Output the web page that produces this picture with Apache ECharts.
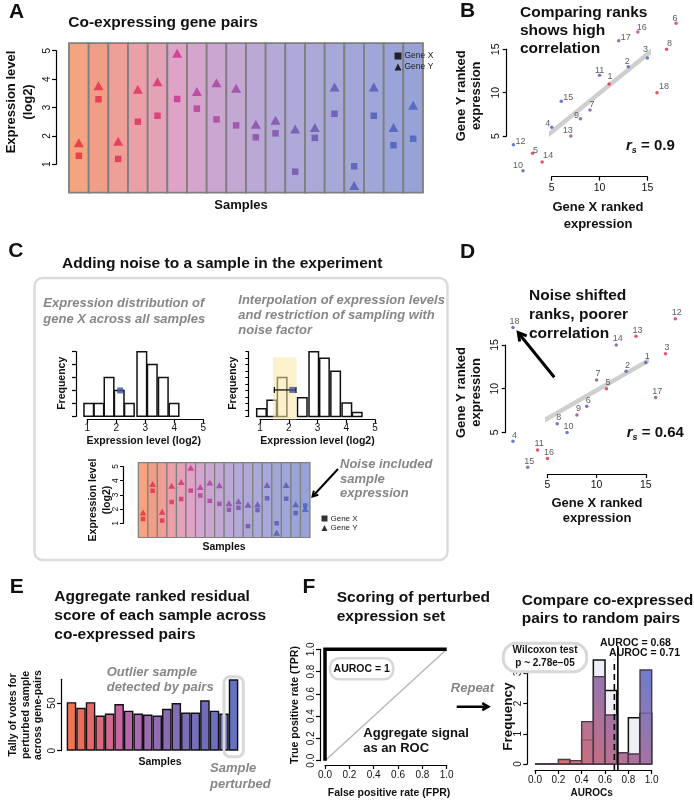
<!DOCTYPE html>
<html><head><meta charset="utf-8">
<script src="https://cdn.jsdelivr.net/npm/echarts@6/dist/echarts.min.js"></script>
<style>html,body{margin:0;padding:0;background:#fff}#c{width:694px;height:800px}</style>
</head><body><div id="c"></div>
<script>
// ================= DATA =================
const samples = ['1','2','3','4','5','6','7','8','9','10','11','12','13','14','15','16','17','18'];
// Panel A: expression (log2) per sample
const geneX_A = [1.30,3.29,1.19,2.50,2.71,3.30,2.96,2.58,2.37,1.95,2.09,0.74,1.93,2.78,0.93,2.71,1.67,1.90];
const geneY_A = [1.76,3.77,1.81,3.64,3.91,4.91,3.56,3.87,3.68,2.41,2.55,2.24,2.30,3.72,0.25,3.72,2.30,3.08];
// Panel C strip: same samples, sample 18 with noise
const geneX_C = [1.30,3.29,1.19,2.50,2.71,3.30,2.96,2.58,2.37,1.95,2.09,0.80,1.93,2.76,1.00,2.73,1.72,2.25];
const geneY_C = [1.76,3.77,1.81,3.64,3.91,4.91,3.56,3.87,3.68,2.41,2.55,2.30,2.34,3.70,0.34,3.70,2.34,2.00];
// Panel B: ranks
const labelsB = [1,2,3,4,5,6,7,8,9,10,11,12,13,14,15,16,17,18];
const rankX_B = [11,13,15,5,3,18,9,17,8,2,10,1,7,4,6,14,12,16];
const rankY_B = [11,13,14,6,3,18,8,15,7,1,12,4,5,2,9,17,16,10];
// Panel D: noise-shifted ranks
const labelsD = [1,2,3,4,5,6,7,8,9,10,11,12,13,14,15,16,17,18];
const rankX_D = [15,13,17,1.5,11,9,10,6,8,7,4,18,14,12,3,5,16,1.5];
const rankY_D = [13,12,14,4,10,8,11,6,7,5,3,18,16,15,1,2,9,17];
// Panel C histograms
const hist1Centers = [1.05,1.40,1.75,2.10,2.45,2.88,3.24,3.62,3.99];
const hist1Counts  = [1,1,3,2,1,5,4,3,1];
const hist1Point   = [2.13, 2];
const hist2Centers = [1.05,1.41,1.77,2.47,2.87,3.24,3.63,4.02,4.38];
const hist2Counts  = [1.2,2.5,6.0,2.9,10,9,7,2.1,0.6];
const hist2Point   = [2.12, 4.1];
const noiseRange   = [1.50, 2.25];
const noiseWindow  = [1.45, 2.27];
// Panel E: votes per sample
const votesE = [51,45,51,37,39,49,42,39,38,37,44,50,40,40,53,42,39,75];
// Panel F: ROC + AUROC histograms
const rocFPR = [0,0,1];
const rocTPR = [0,1,1];
const diagFPR = [0,1];
const diagTPR = [0,1];
const aurocBinStart = [0,0.1,0.2,0.3,0.4,0.5,0.6,0.7,0.8,0.9];
const freqRandom = [0,0,0,0,0.79,3.44,2.43,0,1.53,1.68];
const freqCoexp  = [0,0,0.15,0.11,1.40,2.89,1.62,0.37,0.33,3.11];
const aurocDashed = 0.68;
const aurocSolid  = 0.71;

// ================= STYLES =================
const FONT = '"Liberation Sans", Arial, Helvetica, sans-serif';
const stripColors = ['#f4a47e','#f19e89','#efa096','#eaa0a6','#e5a1b6','#dfa3c7','#d4a5cd','#cba6d1','#c3a8d4','#bca8d6','#b5a9d7','#afa9d8','#aba9d8','#a7a8d8','#a3a7d8','#9fa6d8','#9ba4d8','#97a3d7'];
const markerColors = ['#e8283c','#e52a46','#e02c55','#da2e62','#d4306e','#c8308a','#b63a98','#a8409e','#9a44a2','#8a48a6','#7c4caa','#6e50ae','#6652b0','#5e54b2','#5656b4','#5058b6','#4a5ab8','#4460ba'];
const barColorsE = ['#f07552','#ea6e5e','#e26a6c','#da6a7e','#d0688e','#c866a2','#b468a8','#a86aae','#9c6cb0','#926cb2','#8a6cb4','#826eb6','#7c6eb8','#766eb8','#706eba','#6c70bc','#6870bc','#6472c0'];
const RED='#e0283c', MAG='#c8308a', PUR='#8048a8', BLU='#4a5ab8';
const colorsB = [RED,BLU,BLU,BLU,RED,MAG,PUR,RED,PUR,BLU,PUR,BLU,PUR,RED,BLU,MAG,PUR,RED];
const colorsD = [BLU,BLU,RED,BLU,RED,'#5a50b0',PUR,BLU,PUR,BLU,RED,'#d0306a',RED,PUR,BLU,RED,'#9040a0','#5a50b0'];
const labelOffB = [[1,-7],[-1,-5],[-2,-8],[-4,-4],[3,-3],[-1,-5],[2,-5],[3,-6],[-4,-3],[-5,-5],[0,-5],[7,-3],[-3,-5],[6,-6],[7,-4],[4,-4],[7,-3],[7,-6]];

// ================= HELPERS =================
function fit(xs, ys){
  const n=xs.length; const mx=xs.reduce((a,b)=>a+b,0)/n, my=ys.reduce((a,b)=>a+b,0)/n;
  let sxy=0,sxx=0; for(let i=0;i<n;i++){sxy+=(xs[i]-mx)*(ys[i]-my); sxx+=(xs[i]-mx)*(xs[i]-mx);}
  const b=sxy/sxx; return {b, a: my-b*mx};
}
const fB = fit(rankX_B, rankY_B), fD = fit(rankX_D, rankY_D);

const axLine = {show:true, onZero:false, lineStyle:{color:'#000', width:1.2}};
const axTick = {show:true, length:4, lineStyle:{color:'#000', width:1.2}};
function vAxis(grid, min, max, interval, offset, extra){
  const o = {type:'value', gridIndex:grid, min, max, interval, offset, splitLine:{show:false},
    axisLine:axLine, axisTick:axTick,
    axisLabel:{show:true, fontSize:10.5, color:'#111', fontFamily:FONT, margin:5, showMinLabel:true, showMaxLabel:true}};
  if (extra) { for (const k in extra) { if (k==='axisLabel') Object.assign(o.axisLabel, extra[k]); else o[k]=extra[k]; } }
  return o;
}
function hidden(grid, type, min, max){
  const o={type, gridIndex:grid, show:false, splitLine:{show:false}};
  if(type==='category'){o.data=samples;} else {o.min=min;o.max=max;}
  return o;
}
function T(text, x, y, o){
  o=o||{};
  return {type:'text', x, y, rotation:o.rot||0, z:o.z||50, silent:true,
    style:{text, fill:o.color||'#111', fontSize:o.size||13, fontWeight:o.weight||'bold', fontStyle:o.fstyle||'normal',
      fontFamily:FONT, textAlign:o.align||'left', align:o.align||'left', textVerticalAlign:'middle', verticalAlign:'middle', rich:o.rich}};
}
const GREY='#878787';
function GI(text,x,y,o){o=o||{}; o.color=GREY; o.fstyle='italic'; o.size=o.size||13; return T(text,x,y,o);}
function arrow(x1,y1,x2,y2,w,head){
  const ang=Math.atan2(y2-y1,x2-x1), h=head||7, sp=Math.PI/6;
  const p1=[x2-h*Math.cos(ang-sp), y2-h*Math.sin(ang-sp)], p2=[x2-h*Math.cos(ang+sp), y2-h*Math.sin(ang+sp)];
  return [
    {type:'line', z:50, silent:true, shape:{x1,y1,x2,y2}, style:{stroke:'#000', lineWidth:w, lineCap:'butt'}},
    {type:'polyline', z:50, silent:true, shape:{points:[p1,[x2,y2],p2]}, style:{stroke:'#000', lineWidth:w, fill:null, lineJoin:'miter'}}
  ];
}
function rsRich(val){
  return {r:{fontStyle:'italic', fontWeight:'bold', fontSize:15, fontFamily:FONT, fill:'#111'},
          s:{fontStyle:'italic', fontWeight:'bold', fontSize:9, fontFamily:FONT, fill:'#111', padding:[9,0,0,0]},
          t:{fontWeight:'bold', fontSize:15, fontFamily:FONT, fill:'#111'}};
}

// strip background renderer
function stripRenderer(lo, hi, lw){
  return function(params, api){
    const i=api.value(0); const p0=api.coord([i,lo]), p1=api.coord([i,hi]); const w=api.size([1,0])[0];
    return {type:'rect', shape:{x:p0[0]-w/2, y:p1[1], width:w, height:p0[1]-p1[1]},
      style:{fill:stripColors[params.dataIndex], stroke:'#7f7f7f', lineWidth:lw}};
  };
}
function histRenderer(width, fill, stroke, lw){
  return function(params, api){
    const c=api.value(0), v=api.value(1);
    const p0=api.coord([c-width/2,0]), p1=api.coord([c+width/2,v]);
    return {type:'rect', shape:{x:p0[0], y:p1[1], width:p1[0]-p0[0], height:p0[1]-p1[1]}, style:{fill, stroke, lineWidth:lw}};
  };
}

// ================= OPTION =================
const grids = [
  {left:69, top:50.7, width:354, height:113.6},      // 0 A
  {left:551.7, top:49.3, width:95.7, height:86.7},    // 1 B
  {left:87.3, top:351.7, width:116, height:64.6},     // 2 C hist1
  {left:260, top:351.7, width:115, height:64.8},      // 3 C hist2
  {left:138.3, top:466.5, width:171.7, height:56.8},  // 4 C strip
  {left:547.4, top:345, width:98.4, height:87.4},     // 5 D
  {left:66.7, top:679.3, width:171.6, height:71.4},   // 6 E
  {left:325, top:649.3, width:121.7, height:111.4},   // 7 F roc
  {left:535, top:673.3, width:116.7, height:90.7}     // 8 F hist
].map(g=>Object.assign(g,{containLabel:false, outerBoundsMode:'none', show:false}));

const rot90 = {axisLabel:{rotate:90}};
const xAxes = [
  hidden(0,'category'),
  vAxis(1,5,15,5,40.7,{axisLabel:{margin:6}}),
  vAxis(2,1,5,1,3,{axisLabel:{fontSize:10,margin:4}}),
  vAxis(3,1,5,1,3,{axisLabel:{fontSize:10,margin:4}}),
  hidden(4,'category'),
  vAxis(5,5,15,5,41.6,{axisLabel:{margin:6}}),
  hidden(6,'category'),
  vAxis(7,0,1,0.2,4.3,{axisLabel:{fontSize:10,margin:5,formatter:v=>v.toFixed(1)}}),
  vAxis(8,0,1,0.2,6,{axisLabel:{fontSize:10,margin:5,formatter:v=>v.toFixed(1)}})
];
const yAxes = [
  vAxis(0,1,5,1,13,{axisLabel:{rotate:90,fontSize:10,margin:4}}),
  vAxis(1,5,15,5,45,{axisLabel:{rotate:90,margin:5}}),
  vAxis(2,0,5,1,11.3,{axisLabel:{show:false}}),
  vAxis(3,0,10,1,11.7,{axisLabel:{show:false}, axisTick:{show:true,length:3,lineStyle:{color:'#000',width:1}}}),
  vAxis(4,1,5,1,15.3,{axisLabel:{rotate:90,fontSize:8.5,margin:3}, axisTick:{show:true,length:3,lineStyle:{color:'#000',width:1}}}),
  vAxis(5,5,15,5,41.7,{axisLabel:{rotate:90,margin:5}}),
  vAxis(6,0,75,50,5.7,{axisLabel:{rotate:90,fontSize:10,margin:4,showMaxLabel:false}}),
  vAxis(7,0,1,0.2,5,{axisLabel:{rotate:90,fontSize:10,margin:4,formatter:v=>v.toFixed(1)}}),
  vAxis(8,0,3,1,7.7,{axisLabel:{rotate:90,fontSize:10,margin:4}})
];

const series = [];
// ---- A ----
series.push({type:'custom', xAxisIndex:0, yAxisIndex:0, z:1, renderItem:stripRenderer(0,5.27,1.8), data:samples.map((s,i)=>[i])});
series.push({type:'scatter', name:'Gene X', xAxisIndex:0, yAxisIndex:0, clip:false, symbol:'rect', symbolSize:6.5, z:3,
  itemStyle:{color:p=>markerColors[p.dataIndex]}, data:geneX_A.map((v,i)=>[i,v])});
series.push({type:'scatter', name:'Gene Y', xAxisIndex:0, yAxisIndex:0, clip:false, symbol:'triangle', symbolSize:[10,9], z:3,
  itemStyle:{color:p=>markerColors[p.dataIndex]}, data:geneY_A.map((v,i)=>[i,v])});
// ---- B ----
series.push({type:'line', xAxisIndex:1, yAxisIndex:1, clip:false, symbol:'none', z:1, lineStyle:{color:'#cfcfcf', width:4.5},
  data:[[0.3, fB.a+fB.b*0.3],[18.9, fB.a+fB.b*18.9]]});
series.push({type:'scatter', xAxisIndex:1, yAxisIndex:1, clip:false, symbolSize:3.5, z:3,
  data:rankX_B.map((x,i)=>({value:[x,rankY_B[i]], itemStyle:{color:colorsB[i]},
    label:{show:true, position:'inside', offset:labelOffB[i], formatter:String(labelsB[i]), fontSize:9, color:'#333', fontFamily:FONT}}))});
// ---- C hist1 ----
series.push({type:'custom', xAxisIndex:2, yAxisIndex:2, z:2, renderItem:histRenderer(0.33,'#fff','#111',1.5),
  data:hist1Centers.map((c,i)=>[c,hist1Counts[i]])});
series.push({type:'scatter', xAxisIndex:2, yAxisIndex:2, clip:false, symbol:'rect', symbolSize:6, z:4, itemStyle:{color:'#3b52a2'}, data:[hist1Point]});
// ---- C hist2 ----
series.push({type:'custom', xAxisIndex:3, yAxisIndex:3, z:2, renderItem:histRenderer(0.33,'#fff','#111',1.5),
  data:hist2Centers.map((c,i)=>[c,hist2Counts[i]])});
series.push({type:'custom', xAxisIndex:3, yAxisIndex:3, z:3, data:[noiseWindow],
  renderItem:(p,api)=>{const a=api.coord([api.value(0),-0.45]), b=api.coord([api.value(1),9.1]);
    return {type:'rect', shape:{x:a[0],y:b[1],width:b[0]-a[0],height:a[1]-b[1]}, style:{fill:'rgba(247,231,160,0.55)'}};}});
series.push({type:'custom', xAxisIndex:3, yAxisIndex:3, z:4, data:[[noiseRange[0],noiseRange[1],hist2Point[1]]],
  renderItem:(p,api)=>{const a=api.coord([api.value(0),api.value(2)]), b=api.coord([api.value(1),api.value(2)]);
    return {type:'group', children:[
      {type:'line', shape:{x1:a[0],y1:a[1],x2:b[0],y2:b[1]}, style:{stroke:'#111', lineWidth:1.3}},
      {type:'line', shape:{x1:a[0],y1:a[1]-3,x2:a[0],y2:a[1]+3}, style:{stroke:'#111', lineWidth:1.3}},
      {type:'line', shape:{x1:b[0],y1:b[1]-3,x2:b[0],y2:b[1]+3}, style:{stroke:'#111', lineWidth:1.3}}]};}});
series.push({type:'scatter', xAxisIndex:3, yAxisIndex:3, clip:false, symbol:'rect', symbolSize:6, z:5, itemStyle:{color:'#3b52a2'}, data:[hist2Point]});
// ---- C strip ----
series.push({type:'custom', xAxisIndex:4, yAxisIndex:4, z:1, renderItem:stripRenderer(0,5.27,1.2), data:samples.map((s,i)=>[i])});
series.push({type:'scatter', name:'Gene X', xAxisIndex:4, yAxisIndex:4, clip:false, symbol:'rect', symbolSize:4.5, z:3,
  itemStyle:{color:p=>markerColors[p.dataIndex]}, data:geneX_C.map((v,i)=>[i,v])});
series.push({type:'scatter', name:'Gene Y', xAxisIndex:4, yAxisIndex:4, clip:false, symbol:'triangle', symbolSize:[7,6], z:3,
  itemStyle:{color:p=>markerColors[p.dataIndex]}, data:geneY_C.map((v,i)=>[i,v])});
// ---- D ----
series.push({type:'line', xAxisIndex:5, yAxisIndex:5, clip:false, symbol:'none', z:1, lineStyle:{color:'#cfcfcf', width:4.5},
  data:[[0.85, fD.a+fD.b*0.85],[18.65, fD.a+fD.b*18.65]]});
series.push({type:'scatter', xAxisIndex:5, yAxisIndex:5, clip:false, symbolSize:3.5, z:3,
  data:rankX_D.map((x,i)=>({value:[x,rankY_D[i]], itemStyle:{color:colorsD[i]},
    label:{show:true, position:'inside', offset:[1.5,-6], formatter:String(labelsD[i]), fontSize:9, color:'#333', fontFamily:FONT}}))});
// ---- E ----
series.push({type:'bar', xAxisIndex:6, yAxisIndex:6, barCategoryGap:'0%', z:2,
  itemStyle:{color:p=>barColorsE[p.dataIndex], borderColor:'#111', borderWidth:1.4}, data:votesE});
// ---- F ROC ----
series.push({type:'line', xAxisIndex:7, yAxisIndex:7, clip:false, symbol:'none', z:2, lineStyle:{color:'#b8b8b8', width:1.5},
  data:diagFPR.map((x,i)=>[x,diagTPR[i]])});
series.push({type:'line', xAxisIndex:7, yAxisIndex:7, clip:false, symbol:'none', z:3, lineStyle:{color:'#000', width:3.5, join:'miter'},
  data:rocFPR.map((x,i)=>[x,rocTPR[i]])});
// ---- F hist ----
series.push({type:'custom', xAxisIndex:8, yAxisIndex:8, z:2,
  data:aurocBinStart.map((s,i)=>[s,s+0.1,freqRandom[i]]),
  renderItem:(p,api)=>{const a=api.coord([api.value(0),0]), b=api.coord([api.value(1),api.value(2)]);
    return {type:'rect', shape:{x:a[0],y:b[1],width:b[0]-a[0],height:a[1]-b[1]}, style:{fill:'#eeeef7', stroke:'#111', lineWidth:1.5}};}});
series.push({type:'custom', xAxisIndex:8, yAxisIndex:8, z:3,
  data:aurocBinStart.map((s,i)=>[s,s+0.1,freqCoexp[i]]),
  renderItem:(p,api)=>{const a=api.coord([api.value(0),0]), b=api.coord([api.value(1),api.value(2)]);
    const g0=api.coord([0,0]), g1=api.coord([1,3]);
    const grad=new echarts.graphic.LinearGradient(g0[0],g0[1],g1[0],g1[1],[{offset:0,color:'rgba(228,96,72,0.9)'},{offset:0.5,color:'rgba(168,96,140,0.88)'},{offset:1,color:'rgba(92,112,200,0.9)'}],true);
    return {type:'rect', shape:{x:a[0],y:b[1],width:b[0]-a[0],height:a[1]-b[1]}, style:{fill:grad, stroke:'#4a3a4a', lineWidth:1.4}};}});
series.push({type:'line', xAxisIndex:8, yAxisIndex:8, clip:false, symbol:'none', z:4, lineStyle:{color:'#000', width:1.6, type:[6,4]},
  data:[[aurocDashed,-0.2],[aurocDashed,3.45]]});
series.push({type:'line', xAxisIndex:8, yAxisIndex:8, clip:false, symbol:'none', z:4, lineStyle:{color:'#000', width:1.6},
  data:[[aurocSolid,-0.2],[aurocSolid,3.9]]});

// ================= GRAPHIC (text & annotations) =================
const L = (t,x,y)=>T(t,x,y,{size:21,align:'center'});
const g = [];
g.push(L('A',16.5,12.5), L('B',467.5,11.7), L('C',15.8,251.7), L('D',467.5,252.5), L('E',16.7,587.5), L('F',309,587.5));
// A
g.push(T('Co-expressing gene pairs',68.3,23,{size:15.5}));
g.push(T('Expression level',11,102,{rot:Math.PI/2,align:'center'}), T('(log2)',28,102,{rot:Math.PI/2,align:'center'}));
g.push(T('Samples',241,205,{align:'center'}));
// B
g.push(T('Comparing ranks',520,12.3,{size:15.5}), T('shows high',520,30.8,{size:15.5}), T('correlation',520,49.2,{size:15.5}));
g.push(T('Gene Y ranked',461,95.8,{rot:Math.PI/2,align:'center'}), T('expression',476,95.8,{rot:Math.PI/2,align:'center'}));
g.push(T('Gene X ranked',598,207,{align:'center'}), T('expression',598,224,{align:'center'}));
g.push(T('{r|r}{s|s}{t| = 0.9}',626,146,{rich:rsRich()}));
// C
g.push({type:'rect', z:0, silent:true, shape:{x:34.5,y:278,width:413,height:282,r:8}, style:{fill:'none', stroke:'#dcdcdc', lineWidth:2.5}});
g.push(T('Adding noise to a sample in the experiment',62,264,{size:15.5}));
g.push(GI('Expression distribution of',43.3,303), GI('gene X across all samples',43.3,319));
g.push(GI('Interpolation of expression levels',238.3,300), GI('and restriction of sampling with',238.3,315), GI('noise factor',238.3,330.5));
g.push(T('Frequency',61.7,383.3,{rot:Math.PI/2,align:'center',size:10.5}), T('Expression level (log2)',143.7,441,{align:'center',size:10.5}));
g.push(T('Frequency',233.3,383.3,{rot:Math.PI/2,align:'center',size:10.5}), T('Expression level (log2)',317.5,441,{align:'center',size:10.5}));
g.push(T('Expression level',93.3,500,{rot:Math.PI/2,align:'center',size:10.5}), T('(log2)',106.7,500,{rot:Math.PI/2,align:'center',size:10.5}));
g.push(T('Samples',224,547,{align:'center',size:10.5}));
g.push(GI('Noise included',340,464), GI('sample',340,479), GI('expression',340,493.5));
g.push(...arrow(338,469,312.5,496.5,2,6));
// D
g.push(T('Noise shifted',529,296,{size:15.5}), T('ranks, poorer',529,315,{size:15.5}), T('correlation',529,334,{size:15.5}));
g.push(...arrow(554.3,377.3,518.3,332.7,3,9));
g.push(T('Gene Y ranked',461,392.5,{rot:Math.PI/2,align:'center'}), T('expression',476,392.5,{rot:Math.PI/2,align:'center'}));
g.push(T('Gene X ranked',597,503.3,{align:'center'}), T('expression',597,518.3,{align:'center'}));
g.push(T('{r|r}{s|s}{t| = 0.64}',626.7,433.3,{rich:rsRich()}));
// E
g.push(T('Aggregate ranked residual',54.3,597,{size:15.5}), T('score of each sample across',54.3,616,{size:15.5}), T('co-expressed pairs',54.3,635,{size:15.5}));
g.push(T('Tally of votes for',12.7,715,{rot:Math.PI/2,align:'center',size:10.5}), T('perturbed sample',26,715,{rot:Math.PI/2,align:'center',size:10.5}), T('across gene-pairs',38.3,715,{rot:Math.PI/2,align:'center',size:10.5}));
g.push(T('Samples',160,762,{align:'center',size:10.5}));
g.push(GI('Outlier sample',106.7,672.7), GI('detected by pairs',106.7,687.3));
g.push(GI('Sample',210,768), GI('perturbed',210,784));
g.push({type:'rect', z:5, silent:true, shape:{x:224,y:676.7,width:19.3,height:80,r:6}, style:{fill:'none', stroke:'#d8d8d8', lineWidth:3}});
// F
g.push(T('Scoring of perturbed',336.7,598,{size:15.5}), T('expression set',336.7,617,{size:15.5}));
g.push(T('True positive rate (TPR)',295,705,{rot:Math.PI/2,align:'center',size:10.5}));
g.push(T('False positive rate (FPR)',389,793.3,{align:'center',size:10.5}));
g.push({type:'rect', z:40, silent:true, shape:{x:330,y:658.3,width:63.3,height:21,r:9}, style:{fill:'#fff', stroke:'#d8d8d8', lineWidth:2.5}});
g.push(T('AUROC = 1',361.7,668.8,{align:'center',size:10.5}));
g.push(T('Aggregate signal',363.3,733.3), T('as an ROC',363.3,748.3));
g.push(GI('Repeat',472.5,688.3,{align:'center'}));
g.push(...arrow(456.7,706.7,488.3,706.7,2.5,7));
g.push(T('Compare co-expressed',521.7,601,{size:15.5}), T('pairs to random pairs',521.7,619,{size:15.5}));
g.push(T('Frequency',508.3,716.7,{rot:Math.PI/2,align:'center',size:13.5}));
g.push(T('AUROCs',591.7,793.3,{align:'center',size:10}));
g.push(T('AUROC = 0.68',600,642.7,{size:10.5}), T('AUROC = 0.71',680,653.3,{size:10.5,align:'right'}));
g.push({type:'rect', z:40, silent:true, shape:{x:503.3,y:643.3,width:83.4,height:28.4,r:13}, style:{fill:'#fff', stroke:'#d8d8d8', lineWidth:3}});
g.push(T('Wilcoxon test',545,650.5,{align:'center',size:10}), T('p ~ 2.78e\u221205',545,663.5,{align:'center',size:10}));

const legendBase = (left, top, fs, isz, gap)=>({show:true, orient:'vertical', left, top, itemWidth:isz, itemHeight:isz, itemGap:gap, selectedMode:false,
  padding:0, textStyle:{fontSize:fs, color:'#222', fontFamily:FONT, padding:[0,0,0,-2]},
  data:[{name:'Gene X', icon:'rect', itemStyle:{color:'#000'}},{name:'Gene Y', icon:'triangle', itemStyle:{color:'#000'}}]});

const option = {
  animation:false,
  backgroundColor:'#fff',
  textStyle:{fontFamily:FONT},
  grid:grids, xAxis:xAxes, yAxis:yAxes, series,
  legend:[legendBase(394.5,51.5,8.5,7,2), legendBase(321.5,514.5,8,6,1.5)],
  graphic:{elements:g}
};
const chart = echarts.init(document.getElementById('c'), null, {renderer:'canvas', width:694, height:800});
chart.setOption(option);
</script></body></html>
